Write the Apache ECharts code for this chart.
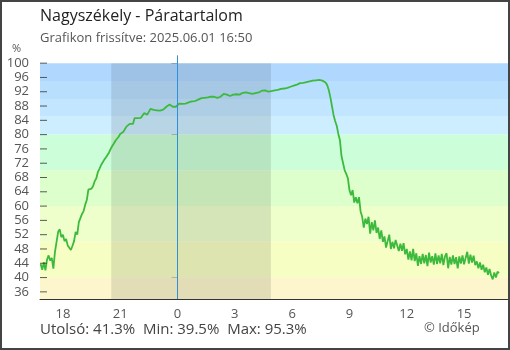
<!DOCTYPE html>
<html><head><meta charset="utf-8">
<script src="https://cdn.jsdelivr.net/npm/echarts@6/dist/echarts.min.js"></script>
<style>html,body{margin:0;padding:0;background:#fff}#c{width:510px;height:350px}</style>
</head><body><div id="c"></div>
<script>
// time axis: hours relative to midnight, 5-minute samples starting 16:50 previous day
const startHour = -7 - 10/60;
const stepHours = 5/60;
const humidity = [
43.8,42.2,44.3,42.0,45.0,46.2,44.8,45.5,42.5,47.2,47.6,52.8,53.5,
51.3,52.0,50.2,50.8,49.0,49.5,47.7,48.9,50.2,52.8,52.0,55.5,
55.4,57.8,58.6,60.4,61.7,64.6,64.3,64.9,65.6,67.0,67.8,69.6,
70.5,71.5,72.0,73.0,73.6,74.3,75.0,76.0,76.8,77.5,78.3,78.8,
79.4,80.2,80.5,80.8,81.3,82.3,82.5,83.0,83.2,83.0,84.6,84.4,
84.6,84.5,84.7,84.6,86.0,86.1,85.6,85.8,87.2,86.8,86.9,86.6,
86.8,86.5,86.7,86.7,87.0,87.3,87.8,88.3,88.4,88.0,87.8,87.6,
87.8,88.0,88.7,88.9,88.6,88.8,88.7,88.9,89.0,89.5,89.3,89.6,
89.4,89.6,89.8,90.0,90.2,90.4,90.3,90.6,90.4,90.7,90.6,90.8,
90.6,90.7,90.3,90.1,90.6,91.0,91.4,91.3,91.2,91.0,90.8,91.1,
91.2,91.1,91.3,91.4,91.2,91.0,91.7,91.9,91.8,91.5,91.6,91.4,
91.4,91.5,91.6,91.7,91.8,92.0,92.3,92.5,92.4,92.1,92.0,92.1,
92.2,92.3,92.4,92.3,92.5,92.6,92.8,92.7,92.9,93.0,93.1,93.2,
93.4,93.6,93.7,93.8,94.0,94.2,94.4,94.4,94.5,94.6,94.7,94.8,
94.9,95.0,95.1,95.2,95.2,95.2,95.3,95.2,95.1,95.0,94.6,93.9,
92.5,90.5,88.0,85.5,83.8,82.5,80.2,78.5,74.0,72.0,70.0,69.0,
67.8,64.5,63.0,64.5,61.0,62.5,60.8,62.5,58.5,57.0,54.0,56.5,
55.0,57.0,52.3,55.5,53.2,56.0,52.5,54.0,50.8,53.2,50.0,51.5,
48.4,50.2,52.0,48.0,50.0,48.2,50.5,49.0,47.4,49.5,47.5,49.6,
46.5,48.0,45.0,47.3,44.8,48.0,44.6,46.8,43.3,46.0,43.8,46.6,
44.0,46.3,43.2,47.0,44.2,46.0,43.6,46.8,43.8,46.2,44.0,46.6,
43.5,45.9,46.8,42.6,45.8,43.6,46.2,43.8,45.7,42.6,45.9,43.9,
46.2,43.7,45.5,47.2,43.9,46.4,44.2,46.1,43.5,44.5,42.6,44.2,
42.2,43.6,41.5,42.8,40.8,42.4,40.6,39.5,41.4,40.0,41.6,41.3
];
const xTickHours = [-6,-3,0,3,6,9,12,15];
const yTickValues = [36,40,44,48,52,56,60,64,68,72,76,80,84,88,92,96,100];
const bandLimits = [[95,100],[90,95],[85,90],[80,85],[70,80],[60,70],[50,60],[40,50],[34,40]];
const bandColors = ['#b0d8ff','#b9dfff','#c2e6ff','#cdeeff','#ccffd9','#ddffcc','#eeffcc','#f6fec4','#fdf6cc'];
const nightSpan = [-3.47, 4.89];
const titleText = 'Nagyszékely - Páratartalom';
const subtitleText = 'Grafikon frissítve: 2025.06.01 16:50';
const statsText = 'Utolsó: 41.3%  Min: 39.5%  Max: 95.3%';

const xMin = -7.2, xMax = 17.3;
const data = humidity.map((v,i)=>[startHour + i*stepHours, v]);
const font = '"Open Sans", "Noto Sans", sans-serif';
const chart = echarts.init(document.getElementById('c'), null, {renderer:'canvas'});
chart.setOption({
  animation:false,
  grid:{left:40,right:2,top:56,bottom:51},
  xAxis:{type:'value',min:xMin,max:xMax,
    axisLine:{lineStyle:{color:'#333'}},
    axisTick:{inside:true,length:6,customValues:xTickHours,lineStyle:{color:'#333'}},
    axisLabel:{customValues:xTickHours,formatter:v=>String(((v%24)+24)%24),color:'#555',fontSize:13,fontFamily:font,margin:9},
    splitLine:{show:false}},
  yAxis:{type:'value',min:34,max:102,
    axisLine:{show:true,lineStyle:{color:'#333'}},
    axisTick:{show:true,length:6,customValues:yTickValues,lineStyle:{color:'#333'}},
    axisLabel:{customValues:yTickValues,color:'#555',fontSize:13,fontFamily:font,margin:11},
    splitLine:{show:false}},
  graphic:[
    {type:'text',left:40,top:8,style:{text:titleText,font:'16px '+font,fill:'#222'}},
    {type:'text',left:40,top:32,style:{text:subtitleText,font:'13px '+font,fill:'#555'}},
    {type:'text',left:12,top:43,style:{text:'%',font:'11px '+font,fill:'#555'}},
    {type:'text',left:40,top:322,style:{text:statsText,font:'15px '+font,fill:'#444'}},
    {type:'text',left:424,top:322,style:{text:'© Időkép',font:'13px '+font,fill:'#555'}},
    {type:'rect',shape:{x:1,y:1,width:508,height:348},style:{fill:'none',stroke:'#444',lineWidth:2},z:100}
  ],
  series:[
    {type:'line',data:[],silent:true,z:1,
     markArea:{silent:true,data:bandLimits.map((b,i)=>[{yAxis:b[0],itemStyle:{color:bandColors[i]}},{yAxis:b[1]}])}},
    {type:'line',data:[],silent:true,z:2,
     markArea:{silent:true,itemStyle:{color:'rgba(0,0,0,0.1)'},data:[[{xAxis:nightSpan[0],yAxis:34},{xAxis:nightSpan[1],yAxis:100}]]},
     markLine:{silent:true,symbol:'none',label:{show:false},lineStyle:{color:'#2f8fd8',width:1,type:'solid',opacity:1},data:[{xAxis:0}]}},
    {type:'line',data:data,showSymbol:false,z:3,lineStyle:{color:'#3dba3d',width:1.8},itemStyle:{color:'#3dba3d'}},
    {type:'scatter',silent:true,z:6,clip:false,data:yTickValues.map(v=>[xMin,v]),
     symbol:'rect',symbolSize:[7,1],symbolOffset:[3.5,0],itemStyle:{color:'#333'}}
  ]
});
</script></body></html>
